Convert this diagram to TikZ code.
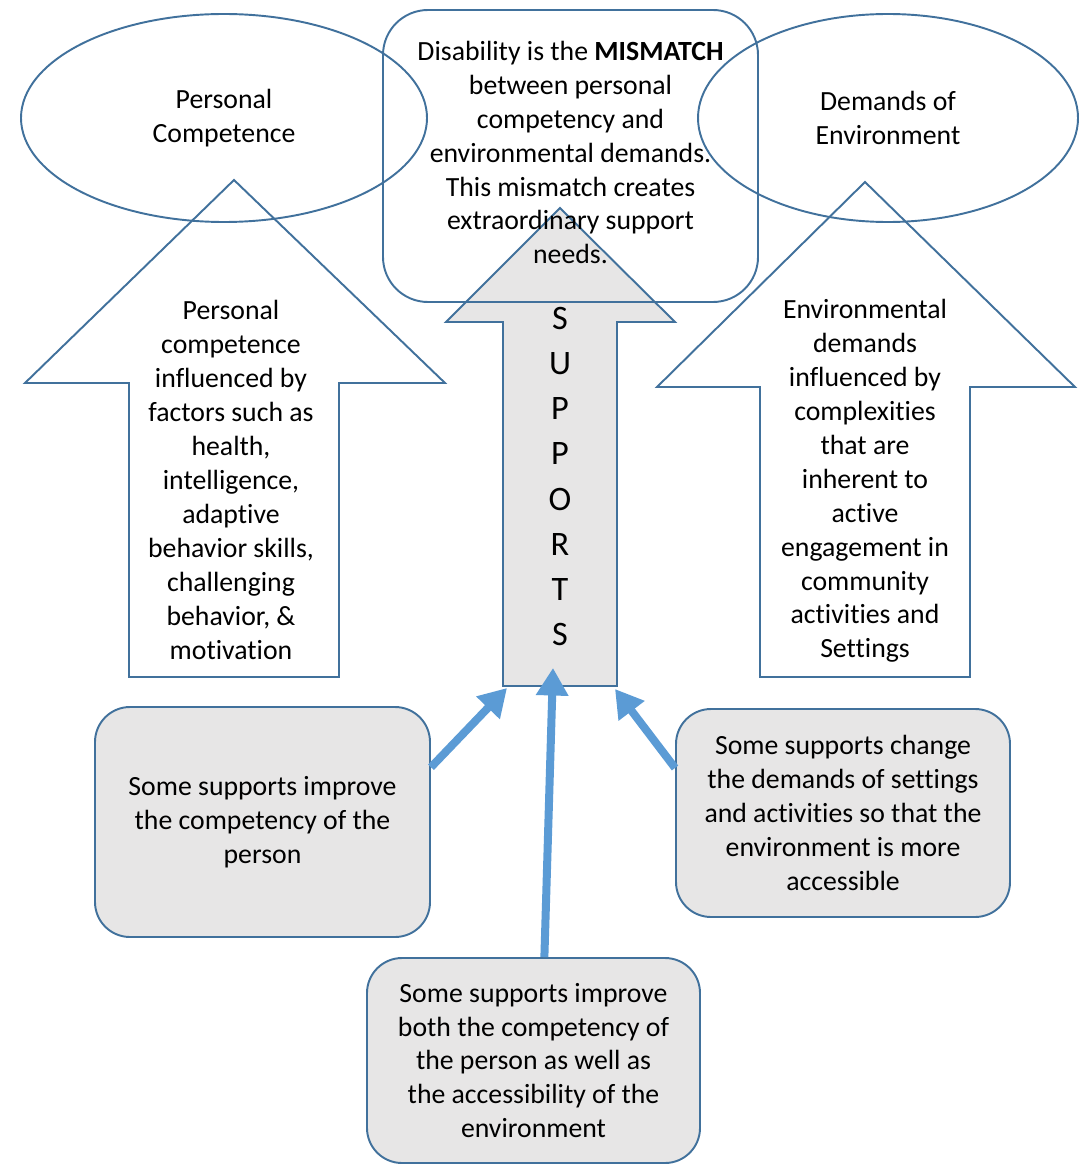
\documentclass[tikz,border=0pt]{standalone}
\usepackage{fontspec}
\setmainfont{Carlito}[Ligatures=NoCommon]
\usepackage{tikz}
\usetikzlibrary{backgrounds}
\usetikzlibrary{arrows.meta}
\usetikzlibrary{shapes,shapes.geometric}
\pgfdeclarelayer{edgelayer}
\pgfdeclarelayer{nodelayer}
\pgfsetlayers{background,edgelayer,nodelayer,main}
\definecolor{outl}{RGB}{65,113,156}
\definecolor{conn}{RGB}{91,155,213}
\definecolor{lgray}{RGB}{231,230,230}
\tikzstyle{none}=[inner sep=0mm]
\tikzstyle{txt}=[inner sep=0mm,align=center,font={\fontsize{15.8}{19.3}\selectfont}]
\tikzstyle{sup}=[inner sep=0mm,align=center,font={\fontsize{19.5}{25.7}\selectfont}]
\tikzstyle{ell}=[txt,shape=ellipse,draw=outl,line width=1.1pt]
\tikzstyle{rbox}=[txt,shape=rectangle,draw=outl,line width=1.1pt,rounded corners=0.9cm]
\tikzstyle{gbox}=[rbox,fill=lgray,rounded corners=0.7cm]
\tikzstyle{blockarrow}=[draw=outl,line width=1.1pt,line join=miter]
\tikzstyle{supedge}=[draw=conn,line width=0.16cm,-{Triangle[width=0.62cm,length=0.55cm]}]

\begin{document}
\begin{tikzpicture}
	\useasboundingbox (0,0) rectangle (21.58,-23.30);
	\begin{pgfonlayer}{edgelayer}
		\draw [style=blockarrow] (4.68,-3.60) -- (8.90,-7.66) -- (6.78,-7.66) -- (6.78,-13.54) -- (2.58,-13.54) -- (2.58,-7.66) -- (0.50,-7.66) -- cycle;
		\draw [style=blockarrow, fill=lgray] (11.20,-4.16) -- (13.50,-6.44) -- (12.34,-6.44) -- (12.34,-13.72) -- (10.06,-13.72) -- (10.06,-6.44) -- (8.92,-6.44) -- cycle;
		\draw [style=blockarrow] (17.30,-3.64) -- (21.50,-7.74) -- (19.40,-7.74) -- (19.40,-13.54) -- (15.20,-13.54) -- (15.20,-7.74) -- (13.14,-7.74) -- cycle;
	\end{pgfonlayer}
	\begin{pgfonlayer}{nodelayer}
		\node [style=ell, minimum width=8.12cm, minimum height=4.16cm] (0) at (4.48, -2.36) {Personal\\Competence};
		\node [style=rbox, minimum width=7.5cm, minimum height=5.84cm, text depth=0.14cm] (1) at (11.41, -3.12) {Disability is the \textbf{MISMATCH}\\between personal\\competency and\\environmental demands.\\This mismatch creates\\extraordinary support\\needs.};
		\node [style=ell, minimum width=7.6cm, minimum height=4.16cm] (2) at (17.76, -2.36) {Demands of\\Environment};
		\node [style=txt] (3) at (4.62, -9.60) {Personal\\competence\\influenced by\\factors such as\\health,\\intelligence,\\adaptive\\behavior skills,\\challenging\\behavior, \&\\motivation};
		\node [style=sup] (4) at (11.20, -9.53) {S\\U\\P\\P\\O\\R\\T\\S};
		\node [style=txt] (5) at (17.30, -9.62) {Environmental\\demands\\influenced by\\complexities\\that are\\inherent to\\active\\engagement in\\community\\activities and\\Settings};
		\node [style=gbox, minimum width=6.7cm, minimum height=4.6cm] (6) at (5.25, -16.44) {Some supports improve\\the competency of the\\person};
		\node [style=gbox, minimum width=6.68cm, minimum height=4.16cm] (7) at (16.86, -16.26) {Some supports change\\the demands of settings\\and activities so that the\\environment is more\\accessible};
		\node [style=gbox, minimum width=6.66cm, minimum height=4.1cm] (8) at (10.67, -21.21) {Some supports improve\\both the competency of\\the person as well as\\the accessibility of the\\environment};
		\coordinate (9) at (10.14, -13.76);
		\coordinate (10) at (11.06, -13.36);
		\coordinate (11) at (12.30, -13.78);
	\end{pgfonlayer}
	\draw [style=supedge] (6.18) to (9);
	\draw [style=supedge] (8.84) to (10);
	\draw [style=supedge] (7.165) to (11);
\end{tikzpicture}
\end{document}
